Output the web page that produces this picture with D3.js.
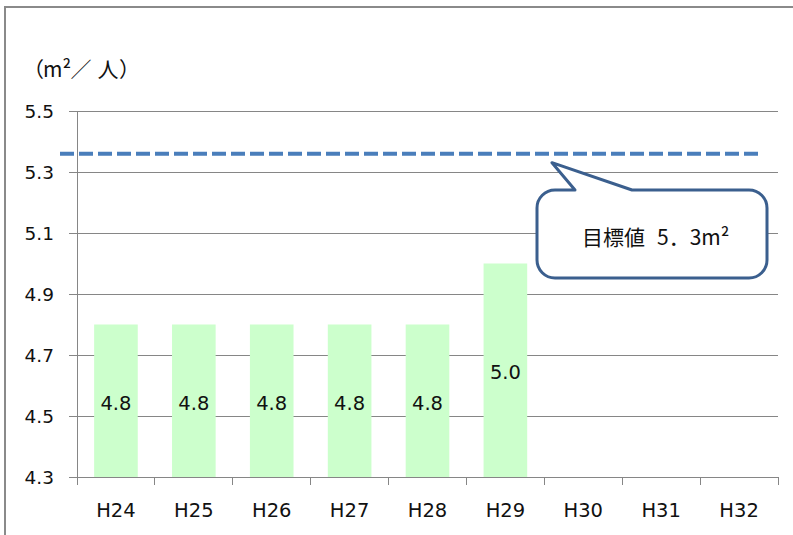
<!DOCTYPE html>
<html>
<head>
<meta charset="utf-8">
<script src="https://cdn.jsdelivr.net/npm/d3@7"></script>
<style>
  html, body { margin: 0; padding: 0; background: #fff; }
  svg { display: block; }
</style>
</head>
<body>
<svg id="chart" width="793" height="535"></svg>
<script>
// Park area per resident (m² / person), fiscal years H24–H32
const years = ["H24", "H25", "H26", "H27", "H28", "H29", "H30", "H31", "H32"];
const values = [4.8, 4.8, 4.8, 4.8, 4.8, 5.0, null, null, null];
const yTicks = [4.3, 4.5, 4.7, 4.9, 5.1, 5.3, 5.5];
const targetValue = 5.36;
const targetCaption = "目標値";
const targetAmount = "5．3m²";
const unitParts = ["（", "m²", "／", "人", "）"];

const svg = d3.select("#chart");
const plot = { left: 77, right: 778, top: 111, bottom: 477 };
const latin = "'DejaVu Sans', Verdana, sans-serif";
const cjk = "'Noto Sans CJK JP', sans-serif";
const gridColor = "#868686";
const textColor = "#111";

// Outer frame (left and top edges visible)
svg.append("path")
  .attr("d", "M5,535 V7 H793")
  .attr("fill", "none")
  .attr("stroke", "#8a8a8a")
  .attr("stroke-width", 2);

const x = d3.scaleBand()
  .domain(years)
  .range([plot.left, plot.right])
  .paddingInner(0.44)
  .paddingOuter(0.22);

const y = d3.scaleLinear()
  .domain([4.3, 5.5])
  .range([plot.bottom, plot.top]);

// Horizontal gridlines with left tick marks
const yAxis = d3.axisLeft(y)
  .tickValues(yTicks)
  .tickSize(-(plot.right - plot.left))
  .tickSizeOuter(0)
  .tickPadding(0)
  .tickFormat(d3.format(".1f"));

const gy = svg.append("g")
  .attr("transform", `translate(${plot.left},0)`)
  .call(yAxis);
gy.select(".domain").remove();
gy.selectAll(".tick line")
  .attr("x1", -8)
  .attr("stroke", gridColor)
  .attr("stroke-width", 1)
  .attr("shape-rendering", "crispEdges");
gy.selectAll(".tick text")
  .attr("x", -23)
  .attr("dy", "0.35em")
  .attr("text-anchor", "end")
  .attr("fill", textColor)
  .style("font-family", latin)
  .style("font-size", "18.5px");

// Vertical value axis line
svg.append("line")
  .attr("x1", plot.left).attr("x2", plot.left)
  .attr("y1", plot.top).attr("y2", plot.bottom + 8)
  .attr("stroke", gridColor)
  .attr("shape-rendering", "crispEdges");

// Category axis: baseline plus ticks between categories
const gx = svg.append("g")
  .attr("transform", `translate(0,${plot.bottom})`);
gx.append("line")
  .attr("x1", plot.left).attr("x2", plot.right)
  .attr("stroke", gridColor)
  .attr("shape-rendering", "crispEdges");
const step = x.step();
const boundaries = d3.range(years.length + 1).map(i => plot.left + i * step);
gx.selectAll("line.sep")
  .data(boundaries)
  .join("line")
  .attr("class", "sep")
  .attr("x1", d => d).attr("x2", d => d)
  .attr("y1", 0).attr("y2", 8)
  .attr("stroke", gridColor)
  .attr("shape-rendering", "crispEdges");
gx.selectAll("text")
  .data(years)
  .join("text")
  .attr("x", d => x(d) + x.bandwidth() / 2)
  .attr("y", 33)
  .attr("dy", "0.35em")
  .attr("text-anchor", "middle")
  .attr("fill", textColor)
  .style("font-family", latin)
  .style("font-size", "19.5px")
  .text(d => d);

// Bars
const data = years.map((yr, i) => ({ yr, v: values[i] })).filter(d => d.v != null);
svg.append("g")
  .selectAll("rect")
  .data(data)
  .join("rect")
  .attr("x", d => x(d.yr))
  .attr("width", x.bandwidth())
  .attr("y", d => y(d.v))
  .attr("height", d => y(4.3) - y(d.v))
  .attr("fill", "#ccffcc");

// Value labels in the middle of each bar
svg.append("g")
  .selectAll("text")
  .data(data)
  .join("text")
  .attr("x", d => x(d.yr) + x.bandwidth() / 2)
  .attr("y", d => (y(d.v) + y(4.3)) / 2 + 2)
  .attr("dy", "0.35em")
  .attr("text-anchor", "middle")
  .attr("fill", textColor)
  .style("font-family", latin)
  .style("font-size", "19.5px")
  .text(d => d3.format(".1f")(d.v));

// Target dashed line
svg.append("line")
  .attr("x1", 60).attr("x2", 761)
  .attr("y1", y(targetValue)).attr("y2", y(targetValue))
  .attr("stroke", "#4a7ebb")
  .attr("stroke-width", 4)
  .attr("stroke-dasharray", "14 5");

// Unit label: one text element, glyph groups spread with explicit offsets
const unitX = [23, 43, 70.5, 97.5, 119];
svg.append("text")
  .attr("y", 70)
  .attr("dy", "0.35em")
  .attr("fill", textColor)
  .style("font-family", cjk)
  .style("font-size", "21px")
  .selectAll("tspan")
  .data(unitParts)
  .join("tspan")
  .attr("x", (d, i) => unitX[i])
  .text(d => d);

// Callout pointing at the target line
const box = { x0: 537, y0: 190, x1: 767, y1: 278, r: 18 };
const tip = { x: 552, y: y(targetValue) + 9 };
const callout = d3.path();
callout.moveTo(box.x0 + box.r, box.y0);
callout.lineTo(575, box.y0);
callout.lineTo(tip.x, tip.y);
callout.lineTo(632, box.y0);
callout.lineTo(box.x1 - box.r, box.y0);
callout.arcTo(box.x1, box.y0, box.x1, box.y0 + box.r, box.r);
callout.lineTo(box.x1, box.y1 - box.r);
callout.arcTo(box.x1, box.y1, box.x1 - box.r, box.y1, box.r);
callout.lineTo(box.x0 + box.r, box.y1);
callout.arcTo(box.x0, box.y1, box.x0, box.y1 - box.r, box.r);
callout.lineTo(box.x0, box.y0 + box.r);
callout.arcTo(box.x0, box.y0, box.x0 + box.r, box.y0, box.r);
callout.closePath();
svg.append("path")
  .attr("d", callout.toString())
  .attr("fill", "#fff")
  .attr("stroke", "#3b5f8e")
  .attr("stroke-width", 3)
  .attr("stroke-linejoin", "round");

const label = svg.append("text")
  .attr("x", 582).attr("y", 238)
  .attr("dy", "0.35em")
  .attr("fill", textColor)
  .style("font-family", cjk)
  .style("font-size", "21px");
label.append("tspan").text(targetCaption);
label.append("tspan").attr("dx", 12).text(targetAmount);
</script>
</body>
</html>
